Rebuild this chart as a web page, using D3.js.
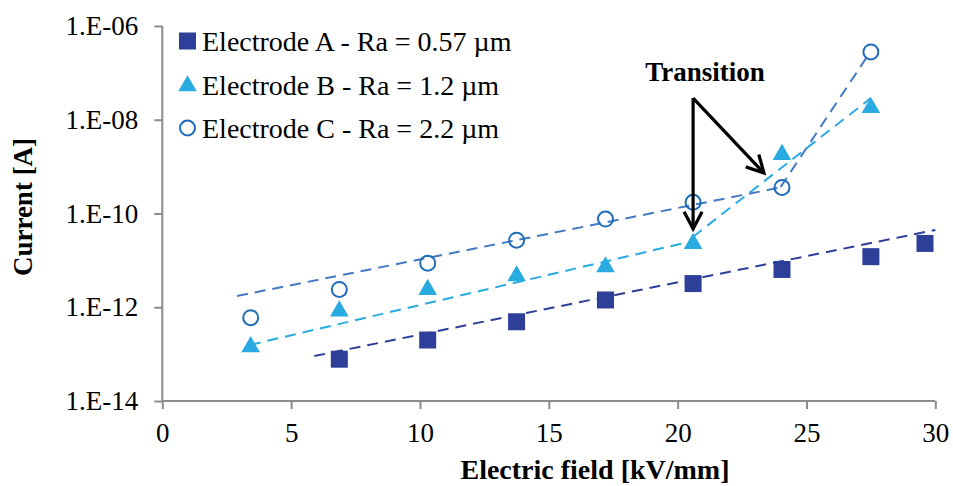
<!DOCTYPE html>
<html>
<head>
<meta charset="utf-8">
<script src="https://cdn.jsdelivr.net/npm/d3@7"></script>
<style>
  html, body { margin: 0; padding: 0; background: #fff; }
  svg { display: block; }
  text { font-family: "Liberation Serif", "Times New Roman", serif; fill: #000; }
</style>
</head>
<body>
<svg id="chart" width="953" height="486"></svg>
<script>
// ---- Data ----
const fieldA = [6.87, 10.3, 13.75, 17.2, 20.6, 24.05, 27.5, 29.6];
const currentA = [7.8e-14, 2.0e-13, 4.9e-13, 1.43e-12, 3.2e-12, 6.4e-12, 1.2e-11, 2.3e-11];

const fieldB = [3.43, 6.87, 10.3, 13.75, 17.2, 20.6, 24.05, 27.5];
const currentB = [1.5e-13, 8.7e-13, 2.5e-12, 4.9e-12, 7.6e-12, 2.4e-11, 1.9e-9, 1.9e-8];

const fieldC = [3.43, 6.87, 10.3, 13.75, 17.2, 20.6, 24.05, 27.5];
const currentC = [6.0e-13, 2.4e-12, 8.7e-12, 2.7e-11, 7.6e-11, 1.74e-10, 3.6e-10, 2.8e-7];

// Trend lines (start / end points)
const trendAField = [5.9, 30];
const trendACurrent = [9.1e-14, 4.45e-11];
const trendB1Field = [3.4, 20.6];
const trendB1Current = [1.57e-13, 2.6e-11];
const trendB2Field = [20.6, 27.5];
const trendB2Current = [3.2e-11, 2.9e-8];
const trendC1Field = [2.9, 24.0];
const trendC1Current = [1.74e-12, 3.6e-10];
const trendC2Field = [24.0, 27.35];
const trendC2Current = [3.7e-10, 2.2e-7];

const xTicks = [0, 5, 10, 15, 20, 25, 30];
const yTicks = [1e-14, 1e-12, 1e-10, 1e-8, 1e-6];
const yTickLabels = ["1.E-14", "1.E-12", "1.E-10", "1.E-08", "1.E-06"];

const legendLabels = ["Electrode A - Ra = 0.57 µm", "Electrode B - Ra = 1.2 µm", "Electrode C - Ra = 2.2 µm"];

// Annotation arrows (in data coordinates)
const arrowStart = [20.6, 2.9e-8];
const arrowTip1 = [20.6, 4.7e-11];
const arrowTip2 = [23.35, 7.3e-10];

// ---- Layout ----
const colA = "#2E3F9A", colB = "#29ABE2", colC = "#1F6CB8", colCtrend = "#4479C4";
const axisCol = "#8C8C8C";
const margin = {left: 162.3, right: 953 - 935.3, top: 26, bottom: 486 - 401};

const svg = d3.select("#chart");
const x = d3.scaleLinear().domain([0, 30]).range([margin.left, 953 - margin.right]);
const y = d3.scaleLog().domain([1e-14, 1e-6]).range([486 - margin.bottom, margin.top]);

// Axes
const xAxis = d3.axisBottom(x).tickValues(xTicks).tickSize(8).tickPadding(14).tickFormat(d3.format("d"));
const gx = svg.append("g").attr("transform", `translate(0,${y(1e-14)})`).call(xAxis);
gx.select(".domain").attr("stroke", axisCol).attr("stroke-width", 2).attr("d", `M${x(0)},0H${x(30)}`);
gx.selectAll(".tick line").attr("stroke", axisCol).attr("stroke-width", 2);
gx.selectAll(".tick text").attr("font-size", 27).attr("font-family", "Liberation Serif").attr("fill", "#000");

const yAxis = d3.axisLeft(y).tickValues(yTicks).tickSize(8).tickPadding(16)
  .tickFormat((d, i) => yTickLabels[i]);
const gy = svg.append("g").attr("transform", `translate(${x(0)},0)`).call(yAxis);
gy.select(".domain").attr("stroke", axisCol).attr("stroke-width", 2).attr("d", `M0,${y(1e-6)}V${y(1e-14)}`);
gy.selectAll(".tick line").attr("stroke", axisCol).attr("stroke-width", 2);
gy.selectAll(".tick text").attr("font-size", 27).attr("font-family", "Liberation Serif").attr("fill", "#000");

// Axis titles
svg.append("text")
  .attr("transform", `translate(32,207) rotate(-90)`)
  .attr("text-anchor", "middle")
  .attr("font-size", 27).attr("font-weight", "bold")
  .text("Current [A]");
svg.append("text")
  .attr("x", 595).attr("y", 479)
  .attr("text-anchor", "middle")
  .attr("font-size", 28).attr("font-weight", "bold")
  .text("Electric field [kV/mm]");

// Trend lines
const line = d3.line().x(d => x(d[0])).y(d => y(d[1]));
function trend(fx, cy, color) {
  svg.append("path")
    .datum(fx.map((v, i) => [v, cy[i]]))
    .attr("d", line)
    .attr("fill", "none")
    .attr("stroke", color)
    .attr("stroke-width", 2)
    .attr("stroke-dasharray", "11,7");
}
trend(trendAField, trendACurrent, colA);
trend(trendB1Field, trendB1Current, colB);
trend(trendB2Field, trendB2Current, colB);
trend(trendC1Field, trendC1Current, colCtrend);
trend(trendC2Field, trendC2Current, colCtrend);

// Markers
const sq = 17;
svg.append("g").selectAll("rect")
  .data(fieldA.map((v, i) => [v, currentA[i]]))
  .join("rect")
  .attr("x", d => x(d[0]) - sq / 2).attr("y", d => y(d[1]) - sq / 2)
  .attr("width", sq).attr("height", sq)
  .attr("fill", colA);

const tri = d3.symbol().type(d3.symbolTriangle).size(150);
svg.append("g").selectAll("path")
  .data(fieldB.map((v, i) => [v, currentB[i]]))
  .join("path")
  .attr("d", tri)
  .attr("transform", d => `translate(${x(d[0])},${y(d[1]) + 1})`)
  .attr("fill", colB);

svg.append("g").selectAll("circle")
  .data(fieldC.map((v, i) => [v, currentC[i]]))
  .join("circle")
  .attr("cx", d => x(d[0])).attr("cy", d => y(d[1]))
  .attr("r", 7.5)
  .attr("fill", "none")
  .attr("stroke", colC)
  .attr("stroke-width", 2);

// Legend
const lg = svg.append("g");
const rowY = [41, 85, 128];
lg.append("rect").attr("x", 179).attr("y", rowY[0] - 8.5).attr("width", sq).attr("height", sq).attr("fill", colA);
lg.append("path").attr("d", tri).attr("transform", `translate(187.5,${rowY[1] + 1})`).attr("fill", colB);
lg.append("circle").attr("cx", 187.5).attr("cy", rowY[2]).attr("r", 7.5).attr("fill", "none").attr("stroke", colC).attr("stroke-width", 2);
lg.selectAll("text.leg")
  .data(legendLabels)
  .join("text")
  .attr("class", "leg")
  .attr("x", 202)
  .attr("y", (d, i) => rowY[i])
  .attr("dy", "0.35em")
  .attr("font-size", 28)
  .text(d => d);

// Annotation
const defs = svg.append("defs");
defs.append("marker")
  .attr("id", "arrowhead")
  .attr("viewBox", "0 0 22 22")
  .attr("refX", 19).attr("refY", 11)
  .attr("markerWidth", 22).attr("markerHeight", 22)
  .attr("markerUnits", "userSpaceOnUse")
  .attr("orient", "auto")
  .append("path")
  .attr("d", "M2,2 L19,11 L2,20")
  .attr("fill", "none")
  .attr("stroke", "#000")
  .attr("stroke-width", 3.2)
  .attr("stroke-linejoin", "miter");

svg.append("text")
  .attr("x", 705).attr("y", 81)
  .attr("text-anchor", "middle")
  .attr("font-size", 27).attr("font-weight", "bold")
  .text("Transition");

[arrowTip1, arrowTip2].forEach(t => {
  svg.append("line")
    .attr("x1", x(arrowStart[0])).attr("y1", y(arrowStart[1]))
    .attr("x2", x(t[0])).attr("y2", y(t[1]))
    .attr("stroke", "#000").attr("stroke-width", 3.2)
    .attr("marker-end", "url(#arrowhead)");
});
</script>
</body>
</html>
